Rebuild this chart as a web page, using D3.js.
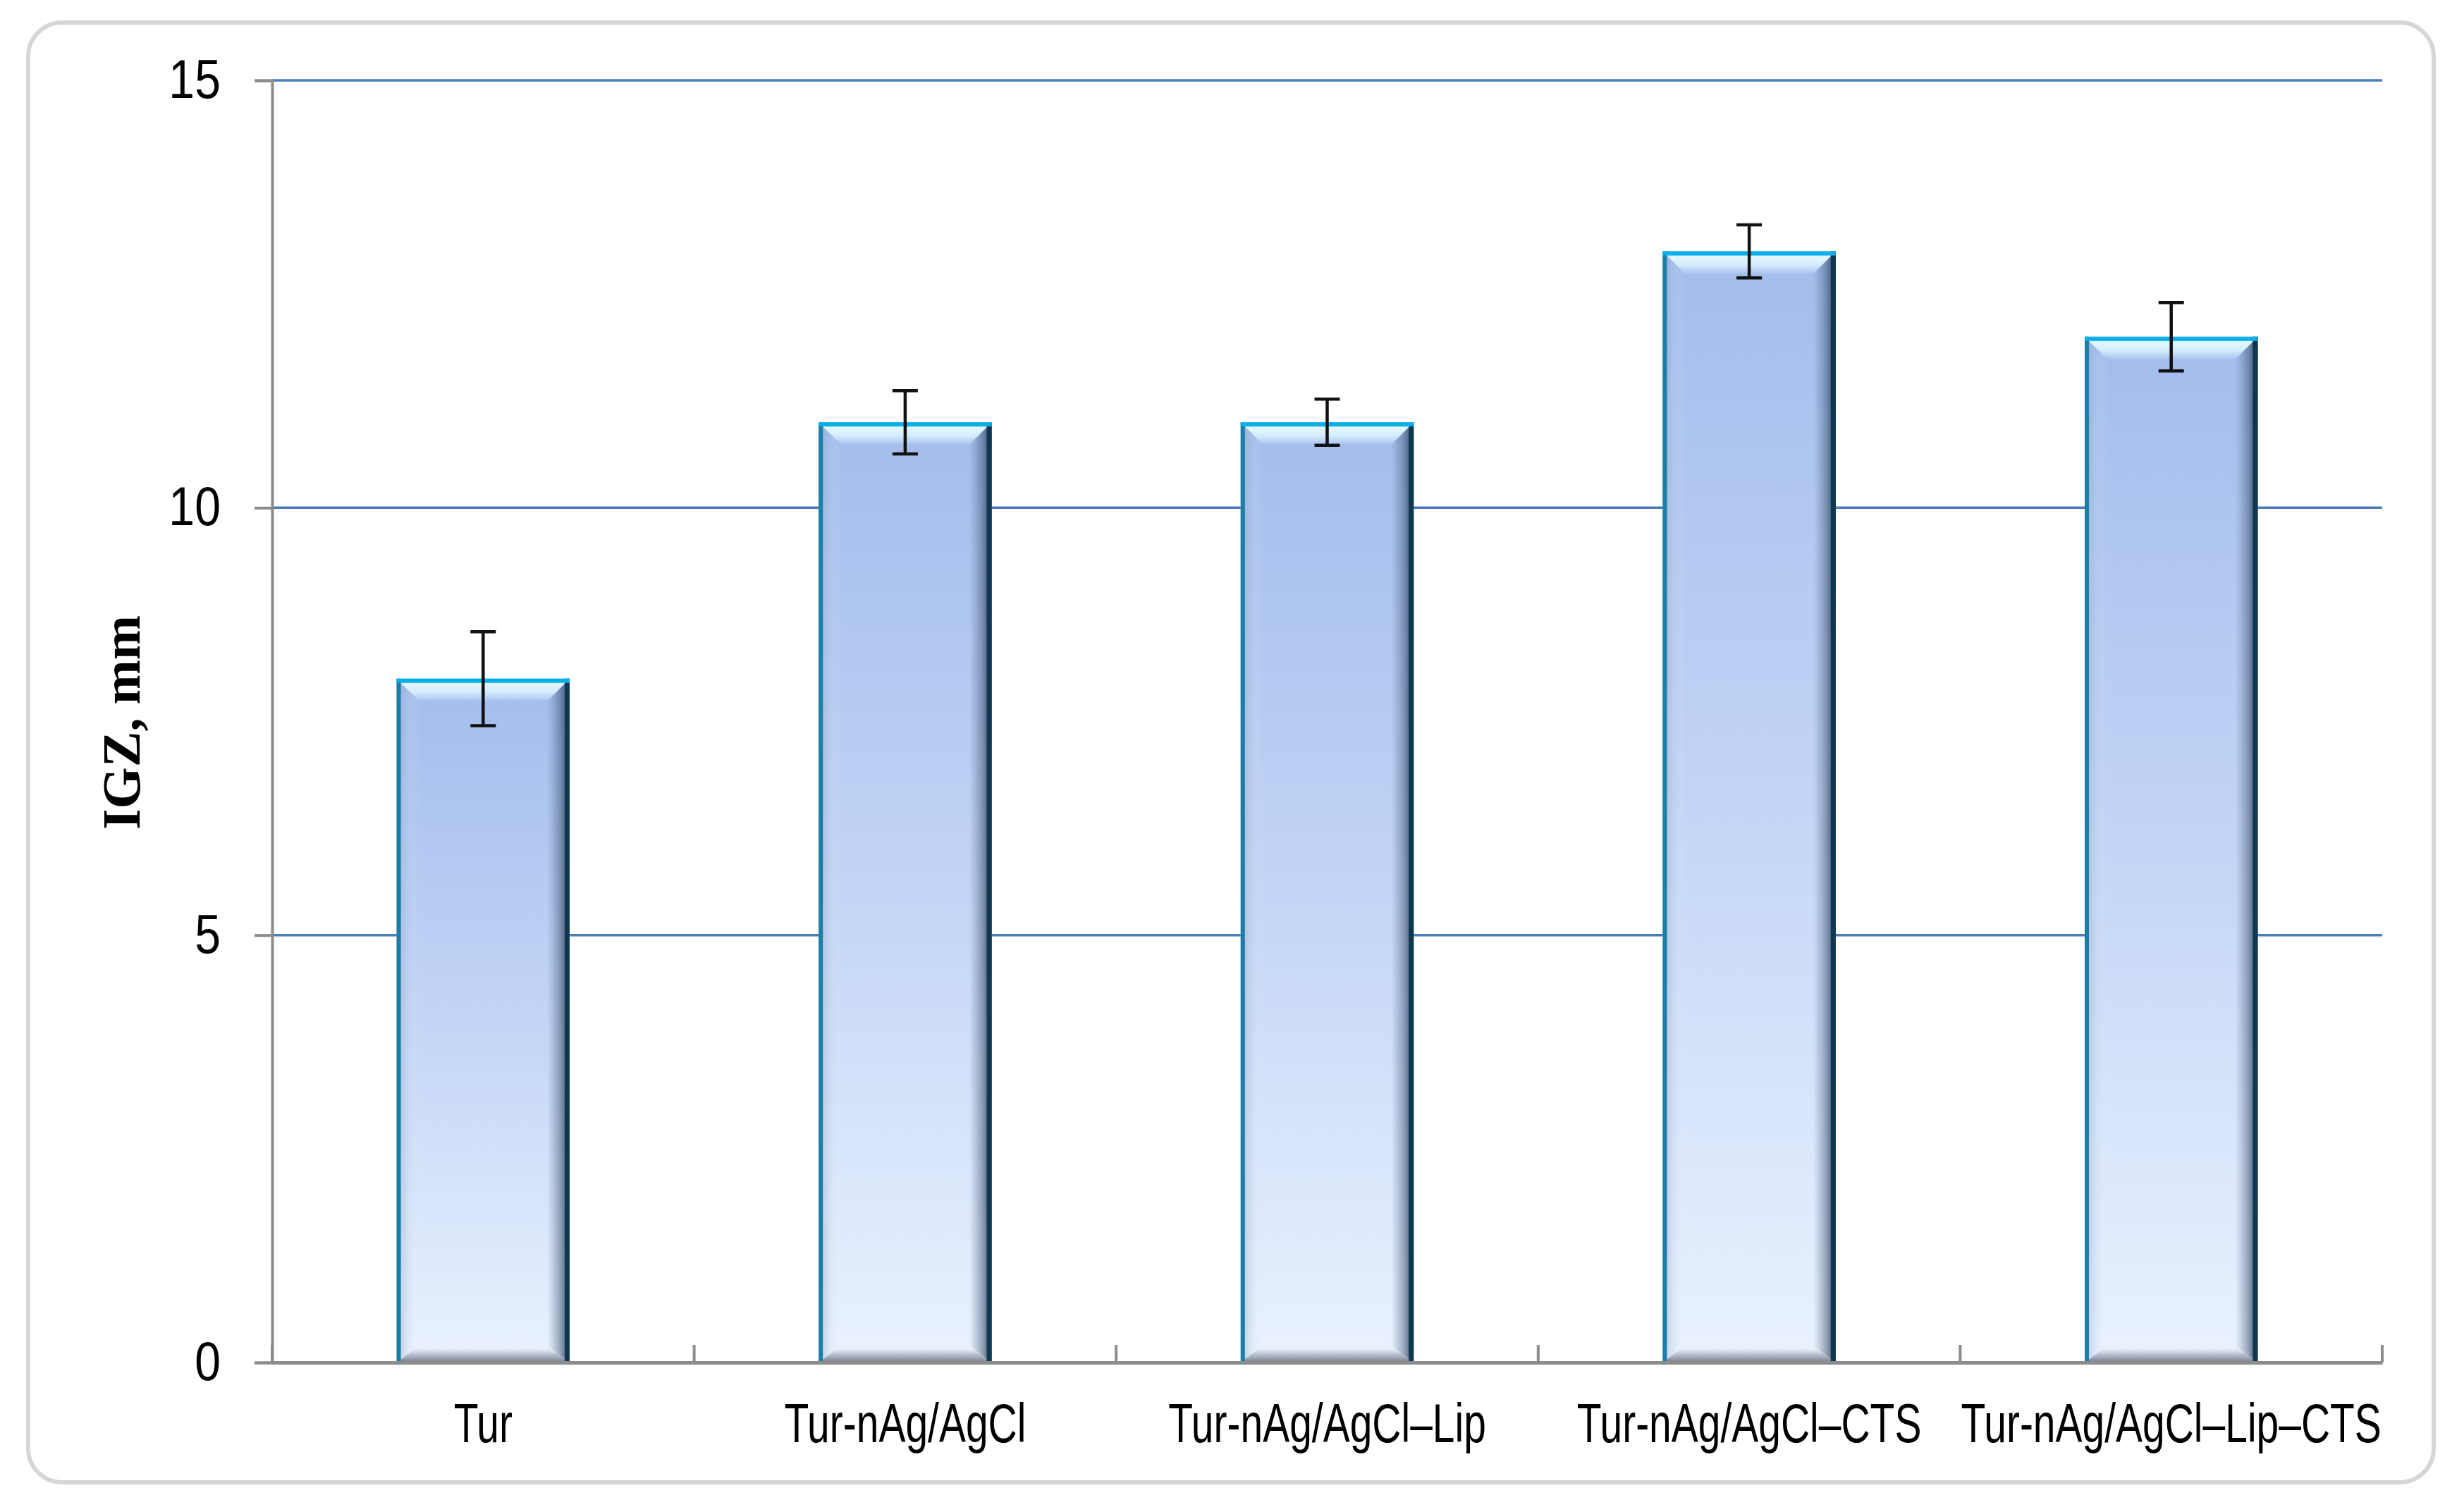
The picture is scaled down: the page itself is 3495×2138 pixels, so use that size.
<!DOCTYPE html>
<html>
<head>
<meta charset="utf-8">
<script src="https://cdn.jsdelivr.net/npm/d3@7"></script>
<style>
  html, body { margin: 0; padding: 0; background: #ffffff; }
  svg { display: block; }
</style>
</head>
<body>
<svg id="chart" width="3495" height="2138"></svg>
<script>
// ---- data ----
const categories = ["Tur", "Tur-nAg/AgCl", "Tur-nAg/AgCl\u2013Lip", "Tur-nAg/AgCl\u2013CTS", "Tur-nAg/AgCl\u2013Lip\u2013CTS"];
const values = [8.0, 11.0, 11.0, 13.0, 12.0];
const errors = [0.55, 0.37, 0.27, 0.31, 0.40];
const yTicks = [0, 5, 10, 15];
const yLabel = "IGZ, mm";

// ---- layout ----
const W = 3495, H = 2138;
const plot = { left: 386, right: 3379, top: 114, bottom: 1933 };
const svg = d3.select("#chart");

const x = d3.scaleBand().domain(categories).range([plot.left, plot.right])
  .paddingInner(0.59).paddingOuter(0.295);
const y = d3.scaleLinear().domain([0, 15]).range([plot.bottom, plot.top]);

const labelFont = "'Liberation Sans', Arial, sans-serif";

// ---- defs ----
const defs = svg.append("defs");
function lin(id, x1, y1, x2, y2, stops) {
  const g = defs.append("linearGradient").attr("id", id)
    .attr("x1", x1).attr("y1", y1).attr("x2", x2).attr("y2", y2);
  stops.forEach(s => g.append("stop").attr("offset", s[0]).attr("stop-color", s[1]).attr("stop-opacity", s[2] == null ? 1 : s[2]));
}
lin("gFill", 0, 0, 0, 1, [[0, "#a2bcec"], [0.5, "#c3d5f6"], [1, "#eaf2fe"]]);
lin("gTop", 0, 0, 0, 1, [[0, "#8ddcf7"], [0.25, "#e4f7ff"], [0.6, "#d3ecfc"], [1, "#a9c2ee"]]);
lin("gRight", 0, 0, 1, 0, [[0, "#5a6f8c", 0.0], [0.6, "#3b5170", 0.5], [1, "#1d3048", 0.9]]);
lin("gLeft", 0, 0, 1, 0, [[0, "#6f8fb8", 0.45], [1, "#ffffff", 0.0]]);
lin("gBottom", 0, 0, 0, 1, [[0, "#ffffff", 0.0], [0.5, "#9aa3b2", 0.6], [1, "#6b7280", 0.95]]);

// ---- chart frame ----
svg.append("rect")
  .attr("x", 40).attr("y", 32).attr("width", 3412).attr("height", 2071)
  .attr("rx", 48).attr("ry", 48)
  .attr("fill", "#ffffff").attr("stroke", "#d6d6d6").attr("stroke-width", 6);

// ---- gridlines ----
svg.append("g").selectAll("line")
  .data(yTicks.filter(d => d > 0))
  .join("line")
  .attr("x1", plot.left).attr("x2", plot.right)
  .attr("y1", d => y(d)).attr("y2", d => y(d))
  .attr("stroke", "#4a7ebb").attr("stroke-width", 3.5);

// ---- bars ----
const b = 32; // bevel size
const bars = svg.append("g").selectAll("g")
  .data(categories.map((c, i) => ({ c, v: values[i], e: errors[i] })))
  .join("g");

bars.each(function (d) {
  const g = d3.select(this);
  const x0 = x(d.c), x1 = x(d.c) + x.bandwidth();
  const y0 = y(d.v), y1 = y(0);
  g.append("rect").attr("x", x0).attr("y", y0).attr("width", x1 - x0).attr("height", y1 - y0)
    .attr("fill", "url(#gFill)");
  g.append("polygon")
    .attr("points", [[x0, y0], [x0 + b, y0 + b], [x0 + b, y1 - b * 0.75], [x0, y1]].join(" "))
    .attr("fill", "url(#gLeft)");
  g.append("polygon")
    .attr("points", [[x1, y0], [x1, y1], [x1 - b, y1 - b * 0.75], [x1 - b, y0 + b]].join(" "))
    .attr("fill", "url(#gRight)");
  g.append("polygon")
    .attr("points", [[x0, y1], [x1, y1], [x1 - b, y1 - b * 0.75], [x0 + b, y1 - b * 0.75]].join(" "))
    .attr("fill", "url(#gBottom)");
  g.append("polygon")
    .attr("points", [[x0, y0], [x1, y0], [x1 - b, y0 + b], [x0 + b, y0 + b]].join(" "))
    .attr("fill", "url(#gTop)");
  g.append("line").attr("x1", x0 + 3).attr("x2", x0 + 3).attr("y1", y0).attr("y2", y1)
    .attr("stroke", "#1c7ea6").attr("stroke-width", 6);
  g.append("line").attr("x1", x1 - 3.5).attr("x2", x1 - 3.5).attr("y1", y0).attr("y2", y1)
    .attr("stroke", "#0f3850").attr("stroke-width", 7);
  g.append("line").attr("x1", x0).attr("x2", x1).attr("y1", y0 + 3).attr("y2", y0 + 3)
    .attr("stroke", "#0aafe8").attr("stroke-width", 6);
});

// ---- error bars ----
const cap = 18;
const eb = svg.append("g").attr("stroke", "#111111").attr("stroke-width", 4.5);
bars.each(function (d) {
  const cx = x(d.c) + x.bandwidth() / 2;
  eb.append("line").attr("x1", cx).attr("x2", cx).attr("y1", y(d.v + d.e)).attr("y2", y(d.v - d.e));
  eb.append("line").attr("x1", cx - cap).attr("x2", cx + cap).attr("y1", y(d.v + d.e)).attr("y2", y(d.v + d.e));
  eb.append("line").attr("x1", cx - cap).attr("x2", cx + cap).attr("y1", y(d.v - d.e)).attr("y2", y(d.v - d.e));
});

// ---- y axis ----
const yScaleX = 0.86;
const yAxis = d3.axisLeft(y).tickValues(yTicks).tickSize(25).tickPadding(48).tickFormat(d3.format("d"));
const yg = svg.append("g").attr("transform", `translate(${plot.left},0)`).call(yAxis);
yg.select(".domain").attr("stroke", "#8c8c8c").attr("stroke-width", 4);
yg.selectAll(".tick line").attr("stroke", "#8c8c8c").attr("stroke-width", 4);
yg.selectAll(".tick text")
  .attr("x", -(25 + 48) / yScaleX)
  .attr("transform", `scale(${yScaleX},1)`)
  .attr("font-family", labelFont).attr("font-size", 77).attr("fill", "#000");

// ---- x axis ----
const xAxis = d3.axisBottom(x).tickSize(0).tickPadding(58);
const xg = svg.append("g").attr("transform", `translate(0,${plot.bottom})`).call(xAxis);
xg.select(".domain").attr("stroke", "#8c8c8c").attr("stroke-width", 5);
xg.selectAll(".tick text")
  .attr("transform", "scale(0.74,1)")
  .attr("font-family", labelFont).attr("font-size", 77).attr("fill", "#000");
const bounds = [plot.left].concat(categories.map(c => x(c) + x.bandwidth() + x.step() * x.paddingInner() / 2));
svg.append("g").selectAll("line").data(bounds).join("line")
  .attr("x1", d => d).attr("x2", d => d)
  .attr("y1", plot.bottom).attr("y2", plot.bottom - 25)
  .attr("stroke", "#8c8c8c").attr("stroke-width", 4);

// ---- y label ----
svg.append("text")
  .attr("transform", "translate(198,1025) rotate(-90)")
  .attr("text-anchor", "middle")
  .attr("font-family", "'Liberation Serif', 'Times New Roman', serif")
  .attr("font-weight", "bold").attr("font-size", 76).attr("fill", "#000")
  .text(yLabel);
</script>
</body>
</html>
